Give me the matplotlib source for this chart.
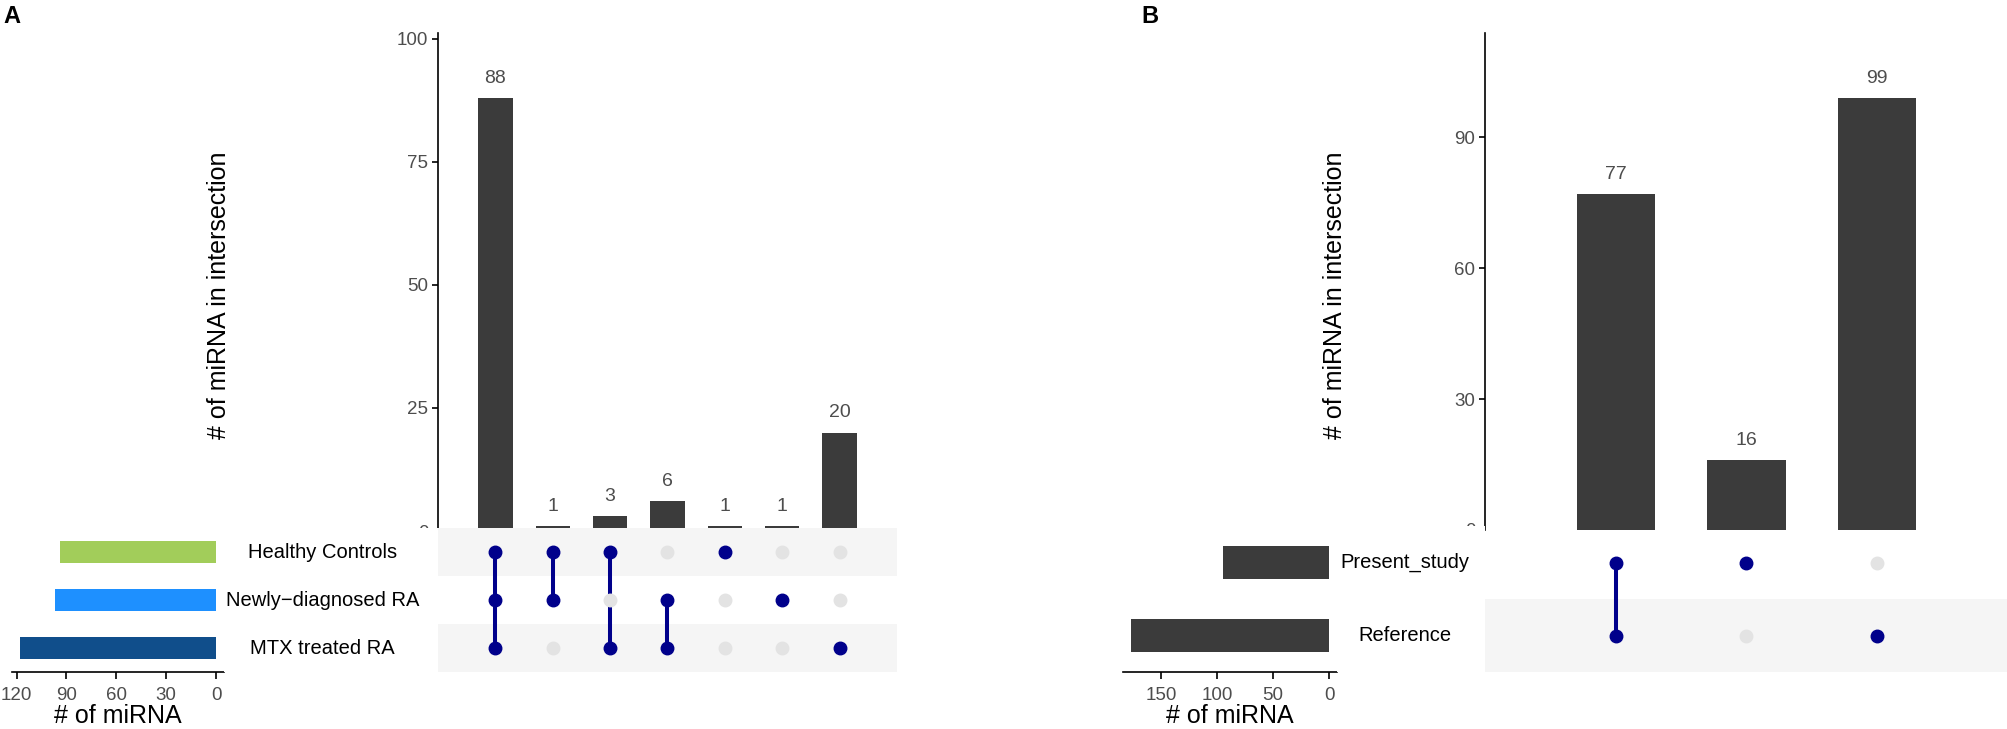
import numpy as np
import matplotlib
matplotlib.use("Agg")
import matplotlib.pyplot as plt

plt.rcParams['font.family'] = ['Liberation Sans', 'DejaVu Sans']

# ---- data: panel A ----
sets_a = ['Healthy Controls', 'Newly\u2212diagnosed RA', 'MTX treated RA']
set_sizes_a = [94, 97, 118]
set_colors_a = ['#A2CD5A', '#1E90FF', '#104E8B']
inter_counts_a = [88, 1, 3, 6, 1, 1, 20]
# membership per intersection column (row index into sets_a)
inter_members_a = [[0, 1, 2], [0, 1], [0, 2], [1, 2], [0], [1], [2]]

# ---- data: panel B ----
sets_b = ['Present_study', 'Reference']
set_sizes_b = [95, 177]
set_colors_b = ['#3B3B3B', '#3B3B3B']
inter_counts_b = [77, 16, 99]
inter_members_b = [[0, 1], [0], [1]]

W, H = 2008, 729
BAR = '#3B3B3B'
DOT = '#00008B'
OFF = '#E3E3E3'
STRIPE = '#F5F5F5'
TICKC = '#4D4D4D'

fig = plt.figure(figsize=(W / 100, H / 100), dpi=100)


def px_axes(x0, y0, x1, y1):
    return fig.add_axes([x0 / W, 1 - y1 / H, (x1 - x0) / W, (y1 - y0) / H])


def upset(bx, mx, sx, lx, ytop, ymid, ybot, sets, sizes, colors, counts, members, yticks, xticks):
    n = len(sets)
    m = len(counts)
    xs = np.arange(m)

    # intersection bars
    ax = px_axes(bx[0], ytop, bx[1], ybot[0])
    ax.bar(xs, counts, width=0.6, color=BAR)
    for x, c in zip(xs, counts):
        ax.annotate(str(c), (x, c), xytext=(0, 8), textcoords='offset points',
                    ha='center', va='bottom', fontsize=14, color=TICKC)
    ax.set_xlim(-1, m)
    ax.set_ylim(0, max(counts) * 1.15)
    ax.set_yticks(yticks)
    for s in ['top', 'right', 'bottom']:
        ax.spines[s].set_visible(False)
    ax.spines['left'].set_linewidth(1.2)
    ax.set_xticks([])
    ax.tick_params(axis='y', length=4, width=1.2, labelsize=13.5, labelcolor=TICKC, pad=3)

    # matrix
    am = px_axes(mx[0], ymid, mx[1], ybot[1])
    for i in range(n):
        if (n - 1 - i) % 2 == 0:
            am.axhspan(i - 0.5, i + 0.5, color=STRIPE, lw=0, zorder=0)
    for x, mem in zip(xs, members):
        for i in range(n):
            am.plot(x, i, 'o', ms=9, color=DOT if i in mem else OFF, zorder=3)
        if len(mem) > 1:
            am.plot([x, x], [min(mem), max(mem)], color=DOT, lw=2.9, zorder=2)
    am.set_xlim(-1, m)
    am.set_ylim(n - 0.5, -0.5)
    am.axis('off')

    # set size bars
    asz = px_axes(sx[0], ymid, sx[1], ybot[1])
    asz.barh(np.arange(n), sizes, height=0.44, color=colors)
    pad = max(sizes) * 0.04
    asz.set_xlim(max(sizes) + pad, -pad)
    asz.set_ylim(n - 0.5, -0.5)
    asz.set_xticks(xticks)
    asz.set_yticks([])
    for s in ['top', 'right', 'left']:
        asz.spines[s].set_visible(False)
    asz.spines['bottom'].set_linewidth(1.2)
    asz.tick_params(axis='x', length=5, width=1.2, labelsize=13.5, labelcolor=TICKC, pad=6)

    # set labels
    al = px_axes(lx[0], ymid, lx[1], ybot[1])
    al.set_facecolor('white')
    for i, name in enumerate(sets):
        al.text(0.46, i, name, ha='center', va='center', fontsize=14.5, color='black')
    al.set_xlim(0, 1)
    al.set_ylim(n - 0.5, -0.5)
    for s in al.spines.values():
        s.set_visible(False)
    al.set_xticks([])
    al.set_yticks([])
    return ax


upset((438, 897), (438, 897), (12, 224), (224, 438), 33, 528, (531, 672),
      sets_a, set_sizes_a, set_colors_a, inter_counts_a, inter_members_a,
      [0, 25, 50, 75, 100], [0, 30, 60, 90, 120])
upset((1485, 2008), (1485, 2008), (1123, 1337), (1337, 1485), 33, 526, (530, 672),
      sets_b, set_sizes_b, set_colors_b, inter_counts_b, inter_members_b,
      [0, 30, 60, 90], [0, 50, 100, 150])

# axis titles
for xc in (219, 1335):
    fig.text(xc / W, 1 - 295 / H, '# of miRNA in intersection', rotation=90,
             ha='center', va='center', fontsize=18)
for xc in (118, 1230):
    fig.text(xc / W, 1 - 704 / H, '# of miRNA', ha='center', va='top', fontsize=18)

# panel letters
fig.text(3 / W, 1 - 5 / H, 'A', ha='left', va='top', fontsize=17, fontweight='bold')
fig.text(1141 / W, 1 - 5 / H, 'B', ha='left', va='top', fontsize=17, fontweight='bold')

fig.savefig('out.png', dpi=100, facecolor='white')
